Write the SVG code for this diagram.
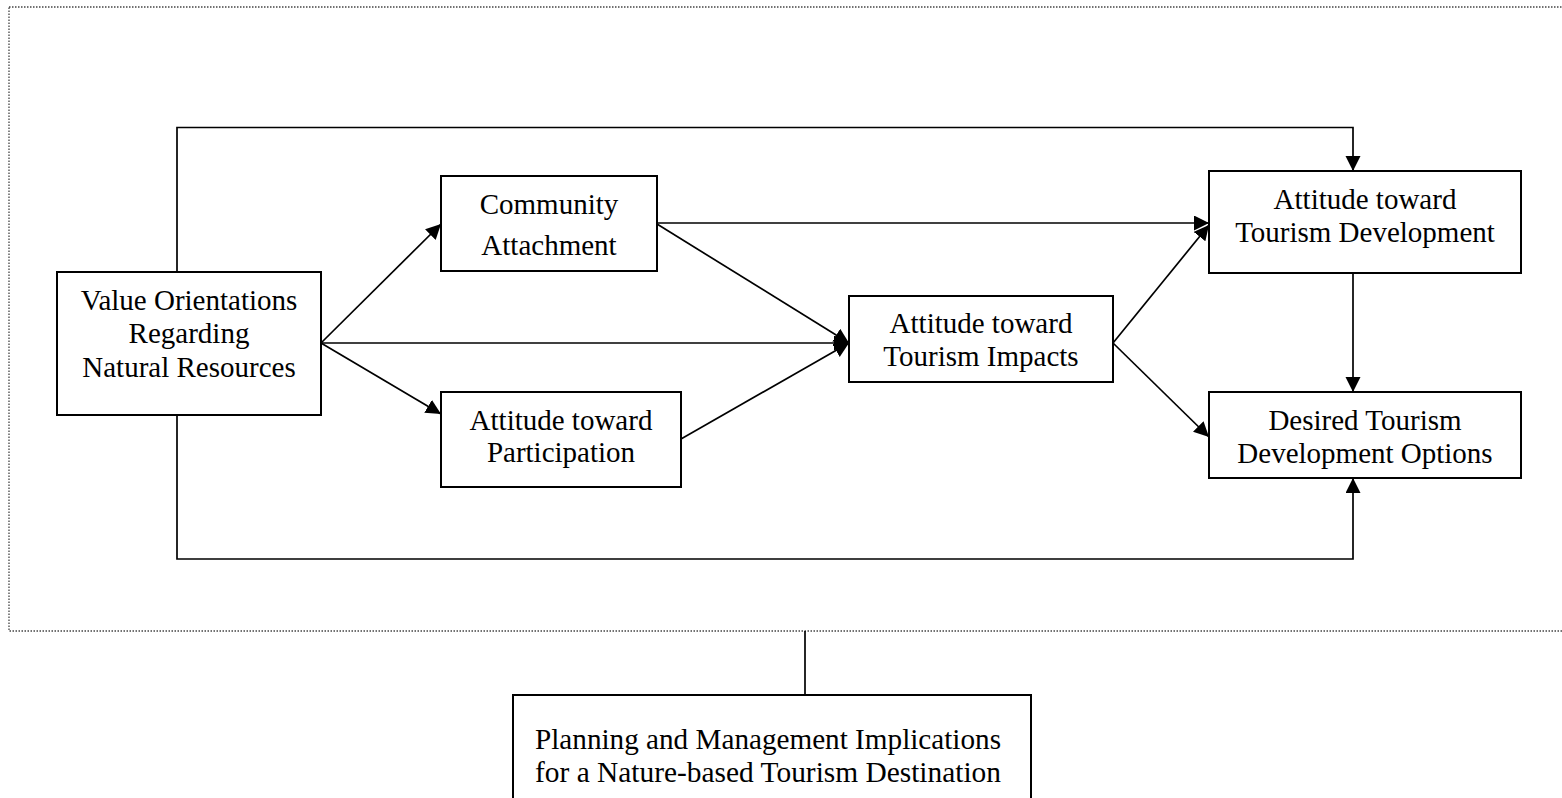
<svg xmlns="http://www.w3.org/2000/svg" width="1562" height="798" viewBox="0 0 1562 798">
<style>
.box{fill:#fff;stroke:#000;stroke-width:2}
.lbl{font-family:"Liberation Serif","Times New Roman",serif;font-size:29px;fill:#000;text-anchor:middle}
.con{fill:none;stroke:#000;stroke-width:1.7}
.arr{marker-end:url(#ah)}
.frame{fill:none;stroke:#444;stroke-width:1.3;stroke-dasharray:1.5 1.5}
</style>
<defs>
<marker id="ah" markerUnits="userSpaceOnUse" markerWidth="16" markerHeight="16" refX="15" refY="7.5" orient="auto">
<path d="M0,0 L15,7.5 L0,15 z" fill="#000"/>
</marker>
</defs>
<rect x="0" y="0" width="1562" height="798" fill="#fff"/>
<rect class="frame" x="9" y="7" width="1600" height="624"/>
<g id="connectors">
<path class="con arr" d="M177,272 V127.5 H1353 V171"/>
<path class="con arr" d="M177,415 V559 H1353 V478"/>
<path class="con arr" d="M321,343 L441,224"/>
<path class="con arr" d="M321,343 H849"/>
<path class="con arr" d="M321,343 L441,414"/>
<path class="con arr" d="M657,224 L849,343"/>
<path class="con arr" d="M681,439 L849,343"/>
<path class="con arr" d="M657,223 H1209"/>
<path class="con arr" d="M1113,343 L1209,225"/>
<path class="con arr" d="M1113,343 L1209,437"/>
<path class="con arr" d="M1353,273 V392"/>
<path class="con" d="M805,631 V695"/>
</g>
<g id="value">
<rect class="box" x="57" y="272" width="264" height="143"/>
<text class="lbl" x="189" y="310">Value Orientations</text>
<text class="lbl" x="189" y="343">Regarding</text>
<text class="lbl" x="189" y="377">Natural Resources</text>
</g>
<g id="community">
<rect class="box" x="441" y="176" width="216" height="95"/>
<text class="lbl" x="549" y="214">Community</text>
<text class="lbl" x="549" y="255">Attachment</text>
</g>
<g id="participation">
<rect class="box" x="441" y="392" width="240" height="95"/>
<text class="lbl" x="561" y="430">Attitude toward</text>
<text class="lbl" x="561" y="462">Participation</text>
</g>
<g id="impacts">
<rect class="box" x="849" y="296" width="264" height="86"/>
<text class="lbl" x="981" y="333">Attitude toward</text>
<text class="lbl" x="981" y="366">Tourism Impacts</text>
</g>
<g id="development">
<rect class="box" x="1209" y="171" width="312" height="102"/>
<text class="lbl" x="1365" y="209">Attitude toward</text>
<text class="lbl" x="1365" y="242">Tourism Development</text>
</g>
<g id="options">
<rect class="box" x="1209" y="392" width="312" height="86"/>
<text class="lbl" x="1365" y="430">Desired Tourism</text>
<text class="lbl" x="1365" y="463">Development Options</text>
</g>
<g id="implications">
<rect class="box" x="513" y="695" width="518" height="120"/>
<text class="lbl" x="768" y="749" style="font-size:30px" textLength="466" lengthAdjust="spacingAndGlyphs">Planning and Management Implications</text>
<text class="lbl" x="768" y="782" style="font-size:30px" textLength="466" lengthAdjust="spacingAndGlyphs">for a Nature-based Tourism Destination</text>
</g>
</svg>
